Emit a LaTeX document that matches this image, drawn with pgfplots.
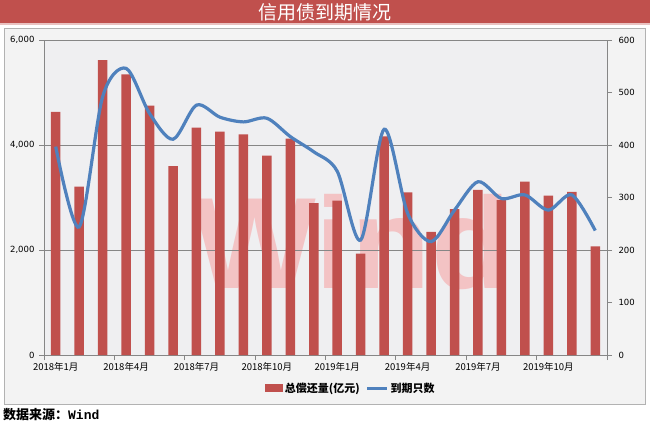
\documentclass[border=0pt]{standalone}
\usepackage{fontspec}
\setmainfont{DejaVu Sans}
\setmonofont{Liberation Mono}
\newfontfamily\cjk{Noto Sans CJK SC}
\newfontfamily\wm{Liberation Sans}
\usepackage{pgfplots}
\pgfplotsset{compat=1.18}
\definecolor{barred}{HTML}{C0504D}
\definecolor{lineblue}{HTML}{4F81BD}
\definecolor{titlered}{HTML}{C0504D}
\definecolor{chartbg}{HTML}{F3F3F3}
\definecolor{plotbg}{HTML}{EFEFF1}
\definecolor{axgray}{HTML}{868686}
\begin{document}
\begin{tikzpicture}[x=1pt,y=1pt]
\path[use as bounding box] (0,0) rectangle (650,424);
\fill[white] (0,0) rectangle (650,424);
% title bar
\fill[titlered] (0,401) rectangle (650,424);
\fill[titlered!35] (0,398.5) rectangle (650,401);
\node[text=white,font=\cjk\fontsize{19}{20}\selectfont] at (325,412) {信用债到期情况};
% chart frame
\draw[gray!60,fill=chartbg,line width=0.8pt] (4,20) rectangle (645,396);
% plot area
\fill[plotbg] (44,69) rectangle (607,384);
% watermark
\node[text=red!75!white,opacity=0.25,font=\wm\bfseries\fontsize{130}{130}\selectfont] at (352,182) {Wind};
\begin{axis}[
  at={(44pt,69pt)}, anchor=south west,
  scale only axis, width=563pt, height=315pt,
  xmin=0.5, xmax=24.5, ymin=0, ymax=6000,
  axis line style={axgray, line width=0.8pt},
  tick style={axgray, line width=0.8pt},
  tick align=outside, major tick length=5pt,
  xtick pos=bottom, ytick pos=left,
  xtick={0.5,3.5,6.5,9.5,12.5,15.5,18.5,21.5,24.5},
  xticklabels={},
  extra x ticks={1,4,7,10,13,16,19,22},
  extra x tick labels={2018年1月,2018年4月,2018年7月,2018年10月,2019年1月,2019年4月,2019年7月,2019年10月},
  extra x tick style={major tick length=0pt, grid=none},
  xticklabel style={font=\cjk\fontsize{9.5}{11}\selectfont, yshift=-4pt},
  ytick={0,2000,4000,6000},
  ymajorgrids, grid style={axgray, line width=0.8pt},
  yticklabel style={font=\fontsize{8.5}{10}\selectfont, xshift=-1pt},
  /pgf/number format/.cd, 1000 sep={,}, assume math mode=true,
  /pgfplots/.cd,
  legend style={at={(0.545,-0.105)}, anchor=center, draw=none, fill=none,
    font=\cjk\bfseries\fontsize{11}{12}\selectfont, legend columns=2,
    /tikz/every even column/.append style={column sep=4pt}},
  legend cell align=left,
]
\addplot[ybar, bar width=9.5pt, fill=barred, draw=none,
  area legend,
  legend image code/.code={\fill[barred] (0pt,-4pt) rectangle (18pt,4pt);}]
  coordinates {
  (1,4630) (2,3206) (3,5619) (4,5346) (5,4749) (6,3600)
  (7,4330) (8,4254) (9,4203) (10,3797) (11,4121) (12,2895)
  (13,2940) (14,1930) (15,4165) (16,3098) (17,2343) (18,2781)
  (19,3143) (20,2952) (21,3302) (22,3035) (23,3105) (24,2070)
  };
\addlegendentry{总偿还量(亿元)}
\addlegendimage{line legend, lineblue, line width=3pt, legend image code/.code={\draw[lineblue,line width=3pt] (0pt,0pt) -- (20pt,0pt);}}
\addlegendentry{到期只数}
\end{axis}
\begin{axis}[
  at={(44pt,69pt)}, anchor=south west,
  scale only axis, width=563pt, height=315pt,
  xmin=0.5, xmax=24.5, ymin=0, ymax=600,
  axis x line=none, axis y line*=right,
  axis line style={axgray, line width=0.8pt, -},
  tick style={axgray, line width=0.8pt},
  tick align=outside, major tick length=5pt,
  ytick={0,100,200,300,400,500,600},
  yticklabel style={font=\fontsize{8.5}{10}\selectfont, xshift=3pt},
  /pgf/number format/.cd, assume math mode=true,
]
\addplot[smooth, line width=3.2pt, lineblue] coordinates {
  (1,397) (2,244) (3,492) (4,546) (5,460) (6,411)
  (7,476) (8,453) (9,444) (10,451) (11,416) (12,387)
  (13,350) (14,219) (15,430) (16,270) (17,216) (18,276)
  (19,330) (20,298) (21,305) (22,276) (23,305) (24,237)
};
\end{axis}
\node[anchor=base west,font=\cjk\bfseries\fontsize{13}{14}\selectfont,inner sep=0pt] at (3,5) {数据来源：{\ttfamily\bfseries Wind}};
\end{tikzpicture}
\end{document}
